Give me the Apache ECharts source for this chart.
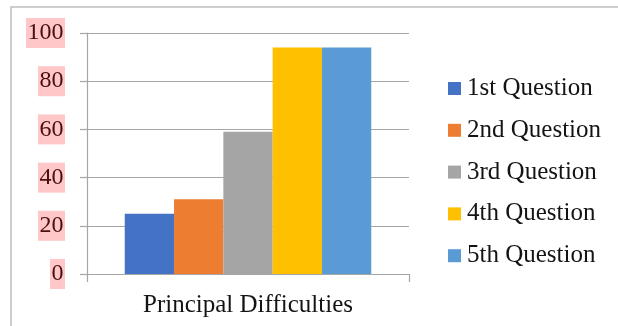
<!DOCTYPE html>
<html>
<head>
<meta charset="utf-8">
<script src="https://cdn.jsdelivr.net/npm/echarts@6/dist/echarts.min.js"></script>
<style>
  html, body { margin: 0; padding: 0; background: #fff; }
  #chart { width: 618px; height: 326px; }
</style>
</head>
<body>
<div id="chart"></div>
<script>
// Single category, one bar per question
const categories = ['Principal Difficulties'];
const seriesNames = ['1st Question', '2nd Question', '3rd Question', '4th Question', '5th Question'];
const seriesValues = [25, 31, 59, 94, 94];
const seriesColors = ['#4472C4', '#ED7D31', '#A5A5A5', '#FFC000', '#5B9BD5'];
const yTicks = [0, 20, 40, 60, 80, 100];

const serif = '"Liberation Serif", "DejaVu Serif", serif';

const chart = echarts.init(document.getElementById('chart'), null, { renderer: 'canvas' });

chart.setOption({
  animation: false,
  backgroundColor: '#fff',
  graphic: [
    // chart frame: top and left edges
    { type: 'polyline', shape: { points: [[11, 326], [11, 7], [618, 7]] },
      style: { stroke: '#bdbdbd', lineWidth: 1.5, fill: null }, silent: true }
  ],
  grid: { left: 87, right: 209, top: 33, bottom: 52, containLabel: false },
  legend: {
    orient: 'vertical',
    left: 443,
    top: 71,
    itemWidth: 13,
    itemHeight: 13,
    itemGap: 16.8,
    icon: 'rect',
    textStyle: { fontFamily: serif, fontSize: 25, lineHeight: 25, color: '#141414', padding: [0, 0, 0, 1] },
    data: seriesNames
  },
  xAxis: {
    type: 'category',
    data: categories,
    boundaryGap: true,
    axisLine: { lineStyle: { color: '#a6a6a6', width: 1.2 } },
    axisTick: { show: true, length: 8, lineStyle: { color: '#a6a6a6', width: 1.2 } },
    axisLabel: { fontFamily: serif, fontSize: 25, lineHeight: 25, color: '#141414', margin: 19 }
  },
  yAxis: {
    type: 'value',
    min: yTicks[0],
    max: yTicks[yTicks.length - 1],
    interval: yTicks[1] - yTicks[0],
    axisLine: { show: true, lineStyle: { color: '#a6a6a6', width: 1.2 } },
    axisTick: { show: true, length: 7, lineStyle: { color: '#a6a6a6', width: 1.2 } },
    splitLine: { show: true, lineStyle: { color: '#a6a6a6', width: 1.2 } },
    axisLabel: {
      fontFamily: serif, fontSize: 24, lineHeight: 24, color: '#4a1010',
      backgroundColor: '#ffc7c7', padding: [3, 1.5, 3, 1.5], margin: 22
    }
  },
  series: seriesNames.map((name, i) => ({
    name: name,
    type: 'bar',
    barWidth: 49.3,
    barGap: '0%',
    itemStyle: { color: seriesColors[i] },
    data: [seriesValues[i]]
  }))
});
</script>
</body>
</html>
